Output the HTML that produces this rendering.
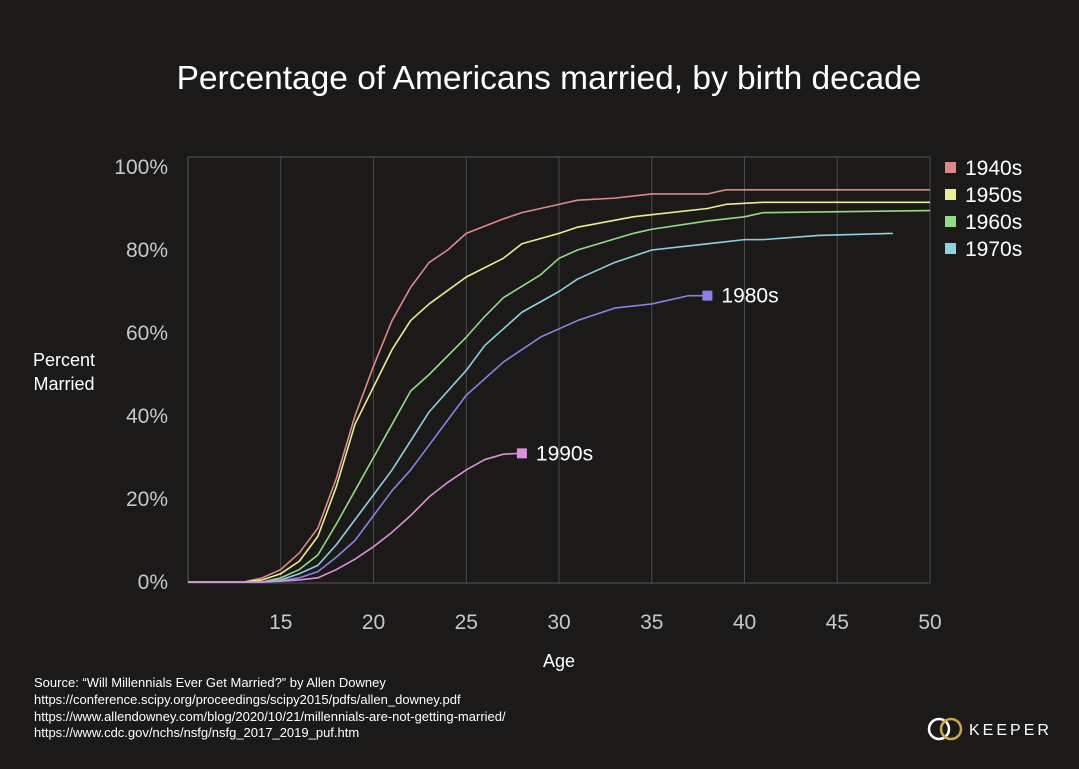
<!DOCTYPE html>
<html><head><meta charset="utf-8"><style>
html,body{margin:0;padding:0;background:#1c1a19;}
body{width:1079px;height:764px;overflow:hidden;font-family:"Liberation Sans","DejaVu Sans",sans-serif;}
</style></head><body>
<svg id="chart" width="1079" height="764" xmlns="http://www.w3.org/2000/svg">
<rect width="1079" height="764" fill="#1c1a19"/>
<text x="549" y="89" fill="#ffffff" font-size="33.5" text-anchor="middle">Percentage of Americans married, by birth decade</text>
<g id="grid"></g><g id="axes"></g><g id="series"></g><g id="legend"></g>
<text x="64" y="366" fill="#fff" font-size="18" text-anchor="middle">Percent</text>
<text x="64" y="390" fill="#fff" font-size="18" text-anchor="middle">Married</text>
<text x="559" y="667" fill="#fff" font-size="18" text-anchor="middle">Age</text>
<g fill="#fff" font-size="13">
<text x="34" y="687">Source: “Will Millennials Ever Get Married?” by Allen Downey</text>
<text x="34" y="704">https://conference.scipy.org/proceedings/scipy2015/pdfs/allen_downey.pdf</text>
<text x="34" y="721">https://www.allendowney.com/blog/2020/10/21/millennials-are-not-getting-married/</text>
<text x="34" y="737">https://www.cdc.gov/nchs/nsfg/nsfg_2017_2019_puf.htm</text>
</g>
<g>
<circle cx="939" cy="729" r="10" fill="none" stroke="#fff" stroke-width="2.5"/>
<circle cx="951" cy="729" r="10" fill="none" stroke="#c9a94a" stroke-width="2.5"/>
<text x="969" y="735" fill="#fff" font-size="16" letter-spacing="3">KEEPER</text>
</g>
</svg>
<script>
const xTicks=[15,20,25,30,35,40,45,50];
const yTicks=[0,20,40,60,80,100];
const names=["1940s","1950s","1960s","1970s","1980s","1990s"];
const colors=["#dc8a88","#ecec94","#90dc88","#8cd2e2","#8c80e2","#dc90dc"];
const ages1940=[10,13,14,15,16,17,18,19,20,21,22,23,24,25,27,28,30,31,33,35,38,39,50];
const vals1940=[0,0,1,3,7,13,25,40,52,63,71,77,80,84,87.5,89,91,92,92.5,93.5,93.5,94.5,94.5];
const ages1950=[10,13,14,15,16,17,18,19,20,21,22,23,25,27,28,30,31,34,35,38,39,41,50];
const vals1950=[0,0,0.5,2,5,11,23,38,47,56,63,67,73.5,78,81.5,84,85.5,88,88.5,90,91,91.5,91.5];
const ages1960=[10,14,15,16,17,18,19,20,21,22,23,25,26,27,29,30,31,34,35,38,40,41,50];
const vals1960=[0,0,1,3,6.5,14,22,30,38,46,50,59,64,68.5,74,78,80,84,85,87,88,89,89.5];
const ages1970=[10,14,15,16,17,18,19,20,21,22,23,25,26,28,30,31,33,35,38,40,41,44,48];
const vals1970=[0,0,0.5,2,4,9,15,21,27,34,41,51,57,65,70,73,77,80,81.5,82.5,82.5,83.5,84];
const ages1980=[10,14,15,16,17,18,19,20,21,22,23,24,25,27,29,31,33,35,37,38];
const vals1980=[0,0,0.3,1,2.5,6,10,16,22,27,33,39,45,53,59,63,66,67,69,69];
const ages1990=[10,14,15,16,17,18,19,20,21,22,23,24,25,26,27,28];
const vals1990=[0,0,0.2,0.5,1,3,5.5,8.5,12,16,20.5,24,27,29.5,30.8,31];
const allAges=[ages1940,ages1950,ages1960,ages1970,ages1980,ages1990];
const allVals=[vals1940,vals1950,vals1960,vals1970,vals1980,vals1990];
const NS="http://www.w3.org/2000/svg";
const L=188,R=930,T=157,B=583;
const X=a=>L+(a-10)*(R-L)/40;
const Y=v=>582-v*4.15;
function mk(t,at,parent){const e=document.createElementNS(NS,t);for(const k in at)e.setAttribute(k,at[k]);parent.appendChild(e);return e;}
const grid=document.getElementById('grid'),axes=document.getElementById('axes'),ser=document.getElementById('series'),leg=document.getElementById('legend');
mk('rect',{x:L,y:T,width:R-L,height:B-T,fill:'none',stroke:'#555','stroke-width':1},grid);
xTicks.forEach(t=>{
 const l=mk('line',{x1:X(t),x2:X(t),y1:T,y2:B,stroke:'#4a4a4a','stroke-width':1},grid);
 
 
 const tx=mk('text',{x:X(t),y:629,fill:'#c8c8c8','font-size':21,'text-anchor':'middle'},axes);
 tx.textContent=t;
 
 
});
yTicks.forEach(t=>{
 const tx=mk('text',{x:168,y:Y(t)+7,fill:'#c8c8c8','font-size':21,'text-anchor':'end'},axes);
 tx.textContent=t+'%';
 
 
});
names.forEach((n,i)=>{
 const a=allAges[i],v=allVals[i];
 const p=mk('polyline',{points:a.map((g,j)=>X(g)+','+Y(v[j])).join(' '),fill:'none',stroke:colors[i],'stroke-width':1.6,'stroke-linejoin':'round'},ser);
 
 
 if(i>=4){
  const la=a[a.length-1],lv=v[v.length-1];
  const m=mk('rect',{x:X(la)-5,y:Y(lv)-5,width:10,height:10,fill:colors[i]},ser);
  
  
  const tx=mk('text',{x:X(la)+14,y:Y(lv)+7,fill:'#fff','font-size':21},ser);
  tx.textContent=n;
  
  
 } else {
  const y0=168+i*27;
  const r=mk('rect',{x:945,y:y0-6,width:11,height:11,fill:colors[i]},leg);
  
  
  const tx=mk('text',{x:965,y:y0+7,fill:'#fff','font-size':21},leg);
  tx.textContent=n;
  
  
 }
});
</script>
</body></html>
